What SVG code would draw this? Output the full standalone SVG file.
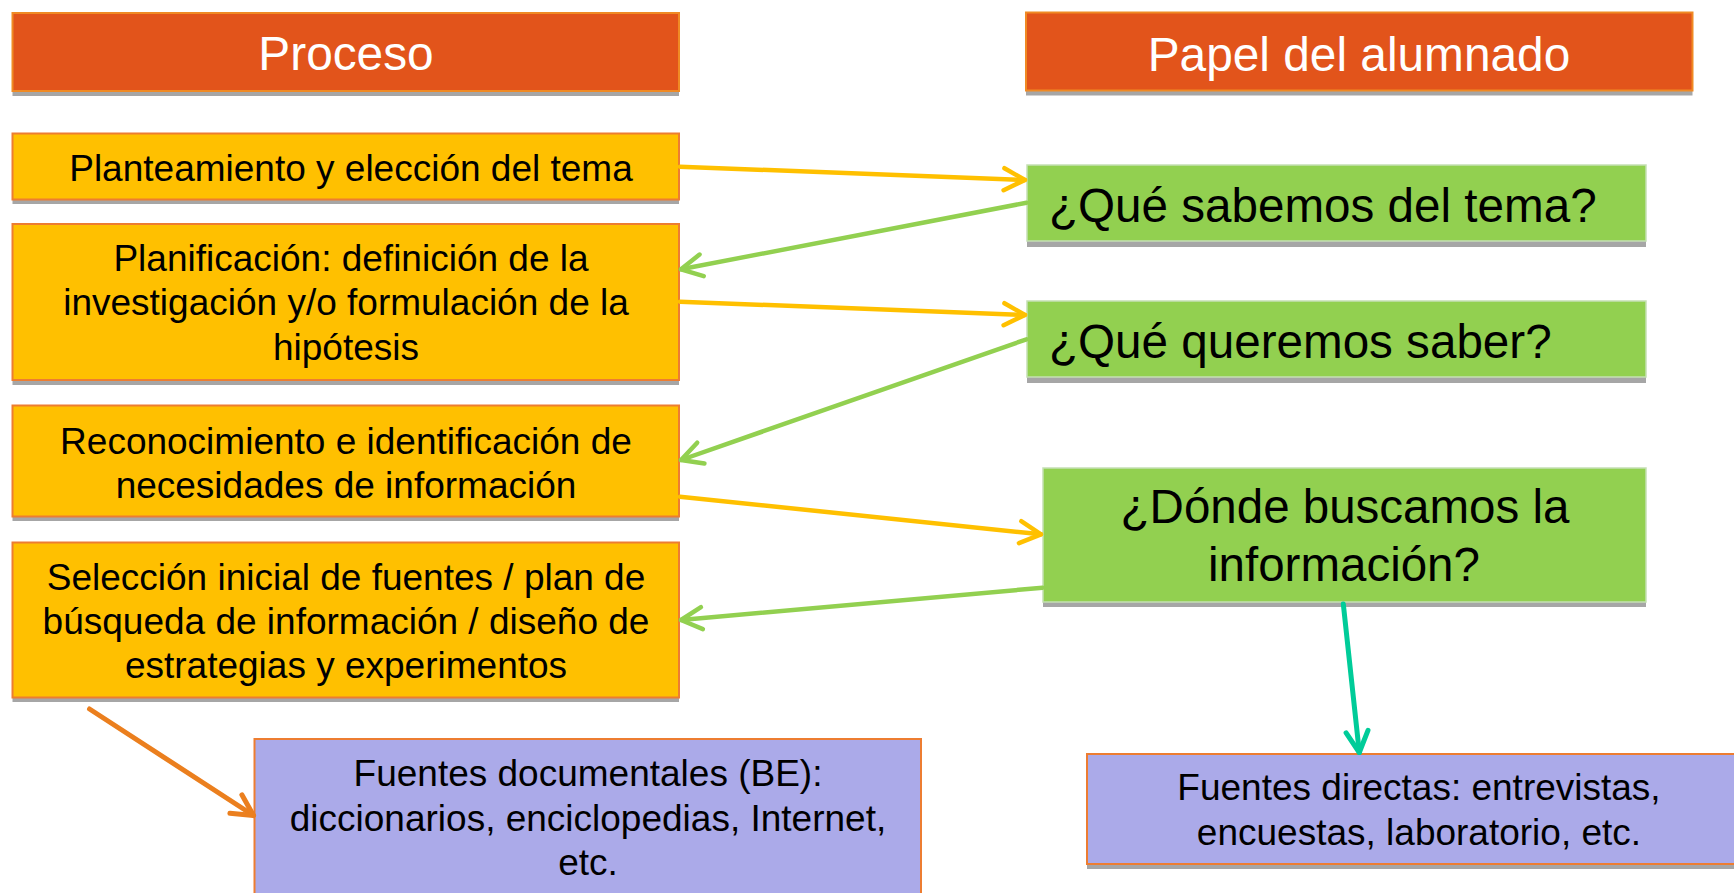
<svg xmlns="http://www.w3.org/2000/svg" width="1734" height="893" viewBox="0 0 1734 893">
<defs>
<style>
.hdr{fill:#E2541B;stroke:#F08A24;stroke-width:2}
.org{fill:#FFC000;stroke:#ED7D31;stroke-width:2}
.grn{fill:#92D050;stroke:#C5E0B4;stroke-width:1.5}
.pur{fill:#ABAAE9;stroke:#ED7D31;stroke-width:2}
.sh{fill:#A6A6A6}
text{font-family:"Liberation Sans",Arial,sans-serif;fill:#000}
.ht{font-size:47.8px;fill:#fff;text-anchor:middle}
.ot{font-size:37px;text-anchor:middle}
.gt{font-size:47.6px}
.gc{font-size:47.5px;text-anchor:middle}
.c{fill:none;stroke-linecap:round;stroke-linejoin:round}
</style>
<marker id="mY" markerUnits="userSpaceOnUse" viewBox="-26 -16 30 32" markerWidth="30" markerHeight="32" refX="0" refY="0" orient="auto" overflow="visible"><path d="M-21,-11 L0,0 L-21,11" fill="none" stroke="#FFC000" stroke-width="4.5" stroke-linecap="round" stroke-linejoin="round"/></marker>
<marker id="mG" markerUnits="userSpaceOnUse" viewBox="-26 -16 30 32" markerWidth="30" markerHeight="32" refX="0" refY="0" orient="auto" overflow="visible"><path d="M-21,-11 L0,0 L-21,11" fill="none" stroke="#92D050" stroke-width="4.5" stroke-linecap="round" stroke-linejoin="round"/></marker>
<marker id="mO" markerUnits="userSpaceOnUse" viewBox="-26 -16 30 32" markerWidth="30" markerHeight="32" refX="0" refY="0" orient="auto" overflow="visible"><path d="M-21,-11 L0,0 L-21,11" fill="none" stroke="#EB7F1E" stroke-width="5" stroke-linecap="round" stroke-linejoin="round"/></marker>
<marker id="mT" markerUnits="userSpaceOnUse" viewBox="-26 -16 30 32" markerWidth="30" markerHeight="32" refX="0" refY="0" orient="auto" overflow="visible"><path d="M-21,-11 L0,0 L-21,11" fill="none" stroke="#00CC99" stroke-width="5" stroke-linecap="round" stroke-linejoin="round"/></marker>
</defs>
<rect width="1734" height="893" fill="#fff"/>

<g id="h-proceso">
<rect class="sh" x="12.5" y="18" width="666.5" height="78"/>
<rect class="hdr" x="12.5" y="13" width="666.5" height="78"/>
<text class="ht" x="346" y="70">Proceso</text>
</g>
<g id="h-papel">
<rect class="sh" x="1026" y="17.5" width="666.5" height="78"/>
<rect class="hdr" x="1026" y="12.5" width="666.5" height="78"/>
<text class="ht" x="1359" y="71">Papel del alumnado</text>
</g>

<g id="p1">
<rect class="sh" x="12.5" y="138" width="666.5" height="66"/>
<rect class="org" x="12.5" y="133.5" width="666.5" height="66"/>
<text class="ot" x="351" y="181">Planteamiento y elección del tema</text>
</g>
<g id="p2">
<rect class="sh" x="12.5" y="229" width="666.5" height="156"/>
<rect class="org" x="12.5" y="224" width="666.5" height="156"/>
<text class="ot" x="351" y="270.5">Planificación: definición de la</text>
<text class="ot" x="346" y="315">investigación y/o formulación de la</text>
<text class="ot" x="346" y="359.5">hipótesis</text>
</g>
<g id="p3">
<rect class="sh" x="12.5" y="410" width="666.5" height="111"/>
<rect class="org" x="12.5" y="405.5" width="666.5" height="111"/>
<text class="ot" x="346" y="453.5">Reconocimiento e identificación de</text>
<text class="ot" x="346" y="497.5">necesidades de información</text>
</g>
<g id="p4">
<rect class="sh" x="12.5" y="547" width="666.5" height="155"/>
<rect class="org" x="12.5" y="542.5" width="666.5" height="155"/>
<text class="ot" x="346" y="589.5">Selección inicial de fuentes / plan de</text>
<text class="ot" x="346" y="633.5">búsqueda de información / diseño de</text>
<text class="ot" x="346" y="677.5">estrategias y experimentos</text>
</g>

<g id="g1">
<rect class="sh" x="1027" y="171" width="619" height="76"/>
<rect class="grn" x="1027" y="165" width="619" height="76"/>
<text class="gt" x="1049" y="222">¿Qué sabemos del tema?</text>
</g>
<g id="g2">
<rect class="sh" x="1027" y="307" width="619" height="76"/>
<rect class="grn" x="1027" y="301" width="619" height="76"/>
<text class="gt" x="1049" y="358">¿Qué queremos saber?</text>
</g>
<g id="g3">
<rect class="sh" x="1043" y="473" width="603" height="134"/>
<rect class="grn" x="1043" y="468" width="603" height="134"/>
<text class="gc" x="1345" y="523">¿Dónde buscamos la</text>
<text class="gc" x="1344" y="581">información?</text>
</g>

<g id="d1">
<rect class="sh" x="254.5" y="744" width="666.5" height="170"/>
<rect class="pur" x="254.5" y="739" width="666.5" height="170"/>
<text class="ot" x="588" y="786">Fuentes documentales (BE):</text>
<text class="ot" x="588" y="831">diccionarios, enciclopedias, Internet,</text>
<text class="ot" x="588" y="875">etc.</text>
</g>
<g id="d2">
<rect class="sh" x="1087" y="759" width="670" height="110"/>
<rect class="pur" x="1087" y="754" width="670" height="110"/>
<text class="ot" x="1419" y="800">Fuentes directas: entrevistas,</text>
<text class="ot" x="1419" y="845">encuestas, laboratorio, etc.</text>
</g>

<g id="connectors" class="c">
<path d="M680,166.7 L1025,180" stroke="#FFC000" stroke-width="4.5" marker-end="url(#mY)"/>
<path d="M1026.5,202.7 L681,269.3" stroke="#92D050" stroke-width="4.5" marker-end="url(#mG)"/>
<path d="M680,301.7 L1025,315" stroke="#FFC000" stroke-width="4.5" marker-end="url(#mY)"/>
<path d="M1026.5,339.3 L681,460" stroke="#92D050" stroke-width="4.5" marker-end="url(#mG)"/>
<path d="M680,496.7 L1041,534.3" stroke="#FFC000" stroke-width="4.5" marker-end="url(#mY)"/>
<path d="M1042.5,587.7 L681,620" stroke="#92D050" stroke-width="4.5" marker-end="url(#mG)"/>
<path d="M89.5,709 L253.5,815.5" stroke="#EB7F1E" stroke-width="5" marker-end="url(#mO)"/>
<path d="M1343.3,604 L1359.3,752.5" stroke="#00CC99" stroke-width="5" marker-end="url(#mT)"/>
</g>
</svg>
